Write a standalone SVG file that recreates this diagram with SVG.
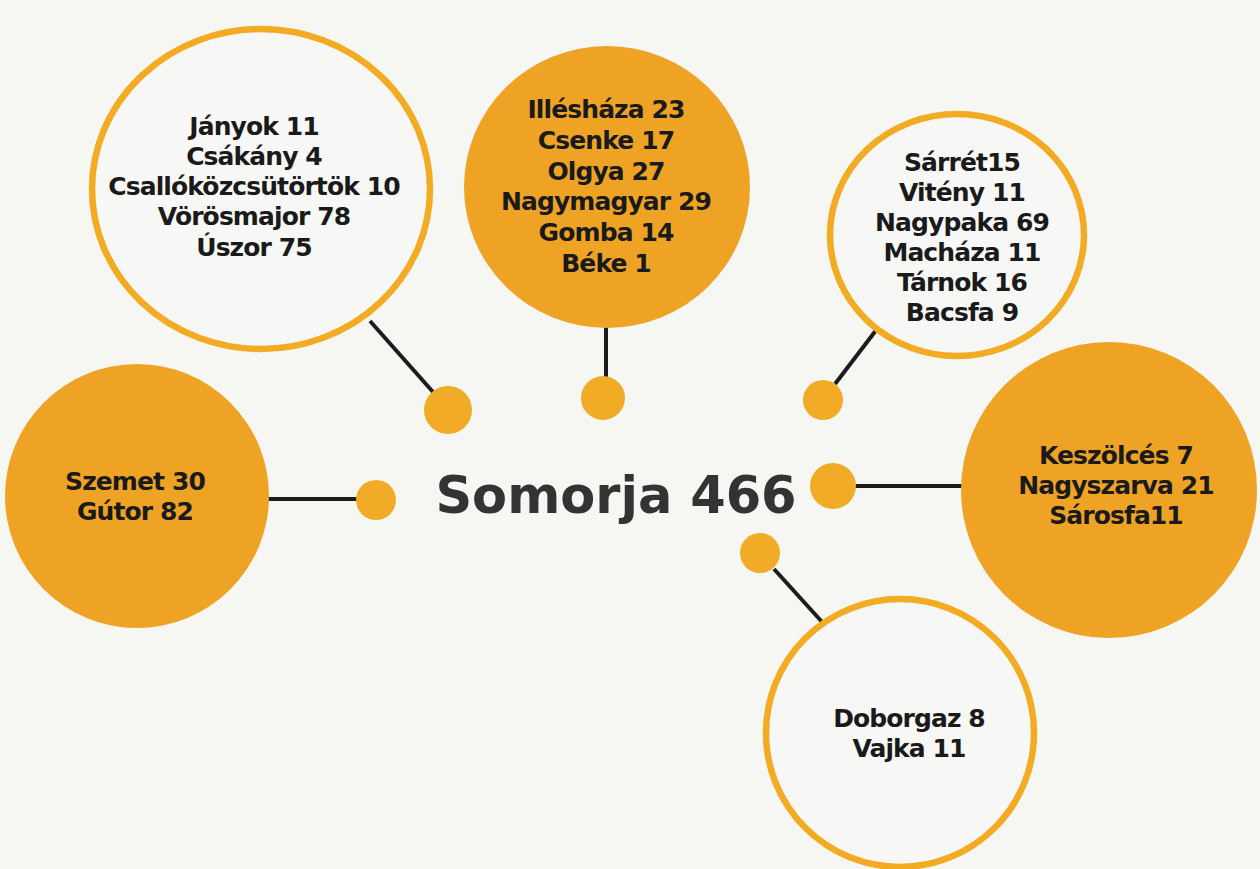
<svg xmlns="http://www.w3.org/2000/svg" width="1260" height="869" viewBox="0 0 1260 869">
  <style>
    .bg { fill: #f6f6f3; }
    .ring { fill: #f7f7f5; stroke: #f2ab22; stroke-width: 6.5; }
    .blob { fill: #efa325; }
    .dot { fill: #f2ab26; }
    .conn line { stroke: #1c1c1c; stroke-width: 4; stroke-linecap: butt; }
    .lbl { font-family: "DejaVu Sans", Verdana, sans-serif; font-weight: bold; font-size: 25px; letter-spacing: -0.9px; fill: #1a1a1a; text-anchor: middle; }
    .title { font-family: "DejaVu Sans", Verdana, sans-serif; font-weight: bold; font-size: 51px; fill: #333333; text-anchor: middle; }
  </style>
  <rect class="bg" x="0" y="0" width="1260" height="869"/>

  <g id="connectors" class="conn">
    <line x1="370" y1="321" x2="433" y2="392"/>
    <line x1="606" y1="326" x2="606" y2="378"/>
    <line x1="877" y1="329" x2="835" y2="384"/>
    <line x1="268" y1="499" x2="358" y2="499"/>
    <line x1="854" y1="486" x2="962" y2="486"/>
    <line x1="774" y1="569" x2="823" y2="623"/>
  </g>

  <g id="dots">
    <circle id="dot-tl" class="dot" cx="448" cy="410" r="24"/>
    <circle id="dot-tc" class="dot" cx="603" cy="398" r="22"/>
    <circle id="dot-tr" class="dot" cx="823" cy="400" r="20"/>
    <circle id="dot-l" class="dot" cx="376" cy="500" r="20"/>
    <circle id="dot-r" class="dot" cx="833" cy="486" r="23"/>
    <circle id="dot-b" class="dot" cx="760" cy="553" r="20"/>
  </g>

  <g id="node-topleft">
    <ellipse class="ring" cx="261" cy="189" rx="169" ry="160"/>
    <text class="lbl" x="254" y="135">Jányok 11</text>
    <text class="lbl" x="254" y="165">Csákány 4</text>
    <text class="lbl" x="254" y="195">Csallóközcsütörtök 10</text>
    <text class="lbl" x="254" y="225">Vörösmajor 78</text>
    <text class="lbl" x="254" y="256">Úszor 75</text>
  </g>

  <g id="node-topcenter">
    <ellipse class="blob" cx="607" cy="187" rx="143" ry="141"/>
    <text class="lbl" x="606" y="118">Illésháza 23</text>
    <text class="lbl" x="606" y="149">Csenke 17</text>
    <text class="lbl" x="606" y="180">Olgya 27</text>
    <text class="lbl" x="606" y="210">Nagymagyar 29</text>
    <text class="lbl" x="606" y="241">Gomba 14</text>
    <text class="lbl" x="606" y="272">Béke 1</text>
  </g>

  <g id="node-topright">
    <ellipse class="ring" cx="957" cy="235" rx="127" ry="121"/>
    <text class="lbl" x="962" y="171">Sárrét15</text>
    <text class="lbl" x="962" y="201">Vitény 11</text>
    <text class="lbl" x="962" y="231">Nagypaka 69</text>
    <text class="lbl" x="962" y="261">Macháza 11</text>
    <text class="lbl" x="962" y="291">Tárnok 16</text>
    <text class="lbl" x="962" y="321">Bacsfa 9</text>
  </g>

  <g id="node-left">
    <circle class="blob" cx="137" cy="496" r="132"/>
    <text class="lbl" x="135" y="490">Szemet 30</text>
    <text class="lbl" x="135" y="520">Gútor 82</text>
  </g>

  <g id="node-center">
    <text class="title" x="616" y="513">Somorja 466</text>
  </g>

  <g id="node-right">
    <circle class="blob" cx="1109" cy="490" r="148"/>
    <text class="lbl" x="1116" y="464">Keszölcés 7</text>
    <text class="lbl" x="1116" y="494">Nagyszarva 21</text>
    <text class="lbl" x="1116" y="524">Sárosfa11</text>
  </g>

  <g id="node-bottom">
    <circle class="ring" cx="900" cy="733" r="134"/>
    <text class="lbl" x="909" y="727">Doborgaz 8</text>
    <text class="lbl" x="909" y="757">Vajka 11</text>
  </g>
</svg>
